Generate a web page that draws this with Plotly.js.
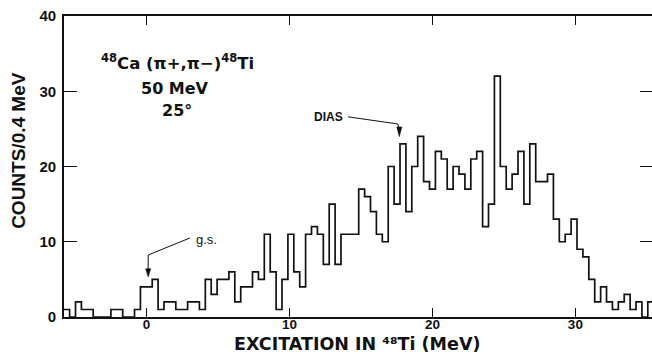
<!DOCTYPE html>
<html>
<head>
<meta charset="utf-8">
<script src="https://cdn.plot.ly/plotly-3.0.1.min.js"></script>
<style>
  html, body { margin: 0; padding: 0; background: #ffffff; }
  #chart { width: 652px; height: 355px; }
</style>
</head>
<body>
<div id="chart"></div>
<script>
// ---- data ----
// counts per bin, from the left edge of the plot to the right edge
const counts = [
  1, 0, 2, 1, 1, 0, 0, 0, 1, 1, 0, 0, 1, 4,
  4, 5, 1, 2, 2, 1, 1, 2, 2, 1,
  5, 3, 5, 5, 6, 2, 4, 4, 6, 5,
  11, 6, 1, 5, 11, 6, 4, 11, 12, 11,
  7, 15, 7, 11, 11, 11, 17, 16, 14, 11,
  10, 20, 15, 23, 14, 20, 24, 18, 17, 22,
  21, 17, 20, 19, 17, 21, 22, 12, 15, 32,
  20, 17, 19, 22, 15, 23, 18, 18, 19, 13,
  10, 11, 13, 9, 8, 5, 2, 4, 2, 1,
  2, 3, 1, 2, 0, 2
];
// bin grid of the histogram as drawn (MeV)
const binStart = -5.80;
const binWidth = 0.4128;

const xTickVals = [0, 10, 20, 30];
const xTickText = ['0', '10', '20', '30'];
const yTickVals = [0, 10, 20, 30, 40];
const yTickText = ['0', '10', '20', '30', '40'];

const reactionLabel = '<sup>48</sup>Ca (\u03c0+,\u03c0\u2212)<sup>48</sup>Ti';
const energyLabel = '50 MeV';
const angleLabel = '25\u00b0';
const diasLabel = 'DIAS';
const gsLabel = 'g.s.';
const xTitle = 'EXCITATION IN \u2074\u2078Ti (MeV)';
const yTitle = 'COUNTS/0.4 MeV';

// ---- build step outline from the bins ----
const stepX = [];
const stepY = [];
for (let i = 0; i <= counts.length; i++) {
  stepX.push(binStart + i * binWidth);
  stepY.push(counts[Math.min(i, counts.length - 1)]);
}

const ink = '#111111';
const boldFont = { family: 'DejaVu Sans, Liberation Sans, Arial, sans-serif', size: 16, color: ink, weight: 700 };

const trace = {
  type: 'scatter',
  mode: 'lines',
  x: stepX,
  y: stepY,
  line: { shape: 'hv', color: ink, width: 1.7 },
  hoverinfo: 'skip',
  showlegend: false
};
// same outline, invisible, only to carry the right-hand tick axis
const mirrorTrace = {
  type: 'scatter',
  mode: 'lines',
  x: stepX,
  y: stepY,
  yaxis: 'y2',
  line: { shape: 'hv', color: 'rgba(0,0,0,0)', width: 0 },
  hoverinfo: 'skip',
  showlegend: false
};

// arrowheads (small filled triangles) for the two pointers
function arrowHead(xTip, yTip, halfW, h) {
  return 'M ' + (xTip - halfW) + ',' + (yTip + h) + ' L ' + (xTip + halfW) + ',' + (yTip + h) +
         ' L ' + xTip + ',' + yTip + ' Z';
}

const layout = {
  width: 652,
  height: 355,
  margin: { l: 64, r: 0, t: 16, b: 38 },
  paper_bgcolor: '#ffffff',
  plot_bgcolor: '#ffffff',
  showlegend: false,
  xaxis: {
    range: [-5.78, 35.36],
    tickmode: 'array',
    tickvals: xTickVals,
    ticktext: xTickText,
    ticks: 'inside',
    ticklen: 9,
    tickwidth: 1.4,
    tickcolor: ink,
    showline: true,
    linecolor: ink,
    linewidth: 1.8,
    mirror: 'ticks',
    showgrid: false,
    zeroline: false,
    ticklabelstandoff: -6,
    tickfont: { family: 'Liberation Sans, Arial, sans-serif', size: 13.5, color: ink, weight: 700 }
  },
  yaxis: {
    range: [0, 40],
    tickmode: 'array',
    tickvals: yTickVals,
    ticktext: yTickText,
    ticks: 'inside',
    ticklen: 13,
    tickwidth: 1.4,
    tickcolor: ink,
    showline: true,
    linecolor: ink,
    linewidth: 1.8,
    mirror: false,
    showgrid: false,
    zeroline: false,
    ticklabelstandoff: 3,
    tickfont: { family: 'Liberation Sans, Arial, sans-serif', size: 15, color: ink, weight: 700 }
  },
  yaxis2: {
    overlaying: 'y',
    side: 'right',
    anchor: 'x',
    range: [0, 40],
    tickmode: 'array',
    tickvals: [10, 20, 30],
    ticks: 'inside',
    ticklen: 12,
    tickwidth: 1.4,
    tickcolor: ink,
    showticklabels: false,
    showline: false,
    showgrid: false,
    zeroline: false
  },
  shapes: [
    { type: 'line', xref: 'x', yref: 'y', x0: 14.09, y0: 26.6, x1: 17.58, y1: 25.65, line: { color: ink, width: 1 } },
    { type: 'line', xref: 'x', yref: 'y', x0: 17.58, y0: 25.65, x1: 17.66, y1: 25.0, line: { color: ink, width: 1 } },
    { type: 'path', xref: 'x', yref: 'y', path: arrowHead(17.68, 23.96, 0.18, 1.3), fillcolor: ink, line: { color: ink, width: 0.5 } },
    { type: 'line', xref: 'x', yref: 'y', x0: 3.03, y0: 10.5, x1: 0.11, y1: 8.24, line: { color: ink, width: 1 } },
    { type: 'line', xref: 'x', yref: 'y', x0: 0.11, y0: 8.24, x1: 0.11, y1: 6.3, line: { color: ink, width: 1 } },
    { type: 'path', xref: 'x', yref: 'y', path: arrowHead(0.11, 5.32, 0.18, 1.1), fillcolor: ink, line: { color: ink, width: 0.5 } }
  ],
  annotations: [
    { xref: 'x', yref: 'y', x: 2.15, y: 33.9, text: reactionLabel, showarrow: false,
      font: { family: 'DejaVu Sans, Liberation Sans, Arial, sans-serif', size: 16.5, color: ink, weight: 700 } },
    { xref: 'x', yref: 'y', x: 2.0, y: 30.4, text: energyLabel, showarrow: false, font: boldFont },
    { xref: 'x', yref: 'y', x: 2.1, y: 27.5, text: angleLabel, showarrow: false, font: boldFont },
    { xref: 'x', yref: 'y', x: 12.7, y: 26.6, text: diasLabel, showarrow: false,
      font: { family: 'Liberation Sans, Arial, sans-serif', size: 12, color: ink, weight: 700 } },
    { xref: 'x', yref: 'y', x: 4.2, y: 10.3, text: gsLabel, showarrow: false,
      font: { family: 'Liberation Sans, Arial, sans-serif', size: 13, color: ink } },
    // axis titles
    { xref: 'paper', yref: 'paper', x: 0.499, y: -0.1255, xanchor: 'center', yanchor: 'bottom',
      text: xTitle, showarrow: false, borderpad: 0,
      font: { family: 'DejaVu Sans, sans-serif', size: 17.5, color: ink, weight: 700 } },
    { xref: 'paper', yref: 'paper', x: -0.0765, y: 0.552, xanchor: 'center', yanchor: 'middle',
      text: yTitle, textangle: -90, showarrow: false,
      font: { family: 'Liberation Sans, Arial, sans-serif', size: 19, color: ink, weight: 700 } }
  ]
};

Plotly.newPlot('chart', [trace, mirrorTrace], layout, { staticPlot: true, displayModeBar: false });
</script>
</body>
</html>
